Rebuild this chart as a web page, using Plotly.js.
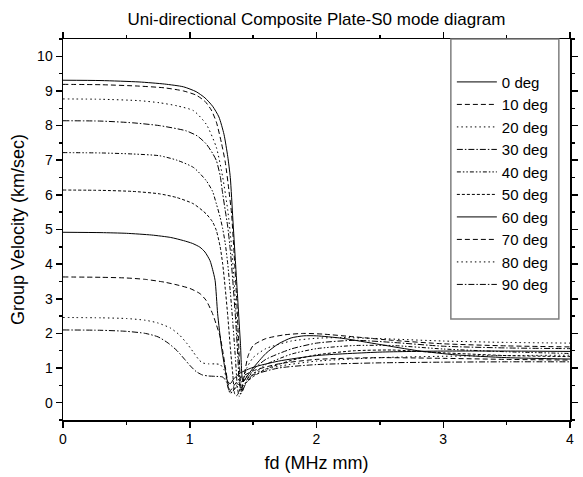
<!DOCTYPE html>
<html>
<head>
<meta charset="utf-8">
<script src="https://cdn.plot.ly/plotly-3.0.1.min.js"></script>
<style>html,body{margin:0;padding:0;background:#fff;}#chart{width:583px;height:477px;}</style>
</head>
<body>
<div id="chart"></div>
<script>
// Series labels
const seriesNames = ["0 deg","10 deg","20 deg","30 deg","40 deg","50 deg","60 deg","70 deg","80 deg","90 deg"];

// fd (MHz mm) and group velocity (km/sec)
const fd0  = [0,0.3,0.6,0.8,0.95,1.05,1.12,1.18,1.23,1.27,1.30,1.32,1.34,1.36,1.38,1.40,1.42,1.45,1.5,1.6,1.7,1.8,1.9,2.0,2.2,2.5,2.8,3.1,3.5,4.0];
const v0   = [9.31,9.30,9.26,9.2,9.12,8.98,8.8,8.56,8.25,7.75,7.1,6.5,5.3,4.1,2.9,1.7,0.6,0.75,1.0,1.42,1.7,1.87,1.93,1.93,1.86,1.68,1.5,1.38,1.3,1.26];

const fd10 = [0,0.3,0.6,0.8,0.95,1.05,1.12,1.17,1.21,1.25,1.28,1.31,1.33,1.35,1.37,1.385,1.40,1.41,1.43,1.46,1.5,1.6,1.75,1.9,2.05,2.3,2.6,3.0,3.5,4.0];
const v10  = [9.19,9.18,9.14,9.09,9.0,8.88,8.7,8.45,8.1,7.5,6.95,6.1,5.45,4.3,3.0,1.8,0.6,0.35,0.8,1.35,1.65,1.85,1.96,2.0,1.98,1.9,1.8,1.7,1.64,1.61];

const fd20 = [0,0.3,0.6,0.76,0.9,1.03,1.13,1.21,1.26,1.30,1.33,1.35,1.37,1.39,1.40,1.42,1.45,1.5,1.6,1.8,2.0,2.2,2.5,3.0,3.5,4.0];
const v20  = [8.77,8.76,8.72,8.66,8.57,8.43,8.04,7.37,6.51,5.55,4.5,3.5,2.3,1.0,0.25,0.6,1.0,1.3,1.56,1.78,1.86,1.88,1.85,1.78,1.74,1.72];

const fd30 = [0,0.3,0.55,0.76,0.97,1.06,1.13,1.18,1.21,1.24,1.26,1.28,1.30,1.32,1.34,1.36,1.38,1.39,1.41,1.45,1.5,1.6,1.8,2.0,2.3,2.6,3.0,3.5,4.0];
const v30  = [8.14,8.13,8.08,8.0,7.85,7.7,7.47,7.2,6.99,6.55,6.03,5.55,5.07,4.4,3.5,2.5,1.3,0.6,0.3,0.65,0.95,1.25,1.55,1.72,1.8,1.74,1.63,1.58,1.56];

const fd40 = [0,0.3,0.55,0.76,0.9,1.03,1.13,1.18,1.21,1.24,1.26,1.28,1.30,1.32,1.34,1.36,1.375,1.39,1.42,1.46,1.5,1.6,1.8,2.0,2.3,2.6,3.0,3.5,4.0];
const v40  = [7.22,7.21,7.18,7.13,7.0,6.79,6.41,6.1,5.74,5.35,5.02,4.6,4.0,3.2,2.3,1.3,0.5,0.18,0.4,0.65,0.82,1.1,1.4,1.56,1.65,1.65,1.55,1.47,1.42];

const fd50 = [0,0.3,0.55,0.76,0.9,1.03,1.13,1.18,1.21,1.24,1.26,1.28,1.30,1.32,1.34,1.355,1.37,1.40,1.45,1.5,1.6,1.8,2.0,2.3,2.6,3.0,3.5,4.0];
const v50  = [6.14,6.13,6.1,6.03,5.92,5.74,5.45,5.22,4.97,4.5,4.0,3.3,2.5,1.6,0.8,0.25,0.2,0.4,0.6,0.75,0.97,1.22,1.38,1.5,1.52,1.44,1.36,1.33];

const fd60 = [0,0.3,0.5,0.7,0.85,0.95,1.02,1.08,1.12,1.16,1.18,1.20,1.22,1.25,1.28,1.30,1.32,1.35,1.4,1.5,1.7,2.0,2.5,3.0,3.5,4.0];
const v60  = [4.92,4.91,4.89,4.84,4.77,4.68,4.6,4.49,4.35,4.1,3.85,3.53,2.57,1.61,0.94,0.6,0.55,0.7,0.86,1.02,1.2,1.36,1.46,1.49,1.49,1.48];

const fd70 = [0,0.3,0.5,0.65,0.8,0.9,1.0,1.08,1.13,1.18,1.21,1.24,1.26,1.28,1.30,1.32,1.35,1.4,1.5,1.7,2.0,2.5,3.0,3.5,4.0];
const v70  = [3.63,3.62,3.6,3.56,3.48,3.4,3.3,3.15,2.95,2.57,2.25,1.9,1.5,1.04,0.6,0.35,0.5,0.72,0.92,1.12,1.25,1.3,1.28,1.25,1.23];

const fd80 = [0,0.3,0.5,0.65,0.75,0.85,0.92,0.98,1.03,1.07,1.1,1.15,1.2,1.24,1.27,1.30,1.32,1.34,1.37,1.42,1.5,1.7,2.0,2.5,3.0,3.5,4.0];
const v80  = [2.46,2.45,2.43,2.38,2.3,2.15,1.95,1.7,1.45,1.25,1.15,1.12,1.12,1.1,0.95,0.5,0.25,0.35,0.5,0.7,0.85,1.05,1.2,1.3,1.34,1.36,1.37];

const fd90 = [0,0.3,0.5,0.65,0.75,0.83,0.9,0.96,1.0,1.05,1.1,1.15,1.2,1.26,1.29,1.31,1.33,1.36,1.4,1.5,1.7,2.0,2.5,3.0,3.5,4.0];
const v90  = [2.1,2.09,2.06,2.0,1.9,1.72,1.5,1.25,1.08,0.9,0.8,0.77,0.76,0.74,0.6,0.35,0.3,0.42,0.58,0.8,1.0,1.1,1.15,1.17,1.18,1.18];

const xs = [fd0,fd10,fd20,fd30,fd40,fd50,fd60,fd70,fd80,fd90];
const ys = [v0,v10,v20,v30,v40,v50,v60,v70,v80,v90];
const dashes = ["solid","5px,3px","1.5px,3px","6px,2px,1.5px,2px","4px,2px,1.5px,2px,1.5px,2px","3px,2px","solid","5px,3px","1.5px,3px","6px,2px,1.5px,2px"];

const FONT = "Liberation Sans, Arial, Helvetica, sans-serif";

const traces = seriesNames.map((n,i)=>({
  type:"scatter", mode:"lines", name:n,
  x: xs[i], y: ys[i],
  line:{color:"#000", width:1, dash:dashes[i], shape:"spline", smoothing:0.6}
}));

const axisCommon = {
  showgrid:false, zeroline:false, showline:true, linecolor:"#000", linewidth:1.5,
  mirror:"ticks", ticks:"outside", ticklen:6, tickwidth:1.5, tickcolor:"#000",
  tickfont:{family:FONT, size:14, color:"#000"}
};

const layout = {
  width:583, height:477,
  margin:{l:63, r:13, t:39, b:57},
  paper_bgcolor:"#fff", plot_bgcolor:"#fff",
  font:{family:FONT, color:"#000"},
  title:{text:"Uni-directional Composite Plate-S0 mode diagram", font:{family:FONT, size:17, color:"#000"}, x:0.5, xref:"paper", y:0.96, yref:"container", yanchor:"middle"},
  xaxis:Object.assign({}, axisCommon, {
    range:[0,4], dtick:1, tick0:0,
    minor:{dtick:0.5, ticks:"outside", ticklen:3, tickwidth:1.5, tickcolor:"#000"},
    title:{text:"fd (MHz mm)", font:{family:FONT, size:18, color:"#000"}, standoff:10}
  }),
  yaxis:Object.assign({}, axisCommon, {
    range:[-0.5,10.5], dtick:1, tick0:0,
    minor:{dtick:0.5, ticks:"outside", ticklen:3, tickwidth:1.5, tickcolor:"#000"},
    title:{text:"Group Velocity (km/sec)", font:{family:FONT, size:18, color:"#000"}, standoff:8}
  }),
  showlegend:true,
  legend:{x:0.767, xanchor:"left", y:0.93, yanchor:"top", bgcolor:"rgba(0,0,0,0)", borderwidth:0,
          font:{family:FONT, size:15, color:"#000"}, itemwidth:40, tracegroupgap:0},
  shapes:[{type:"rect", xref:"paper", yref:"paper", x0:0.765, x1:0.978, y0:0.265, y1:1,
           line:{color:"#7f7f7f", width:1.5}, fillcolor:"rgba(0,0,0,0)"}]
};

Plotly.newPlot("chart", traces, layout, {displayModeBar:false, staticPlot:true});
</script>
</body>
</html>
